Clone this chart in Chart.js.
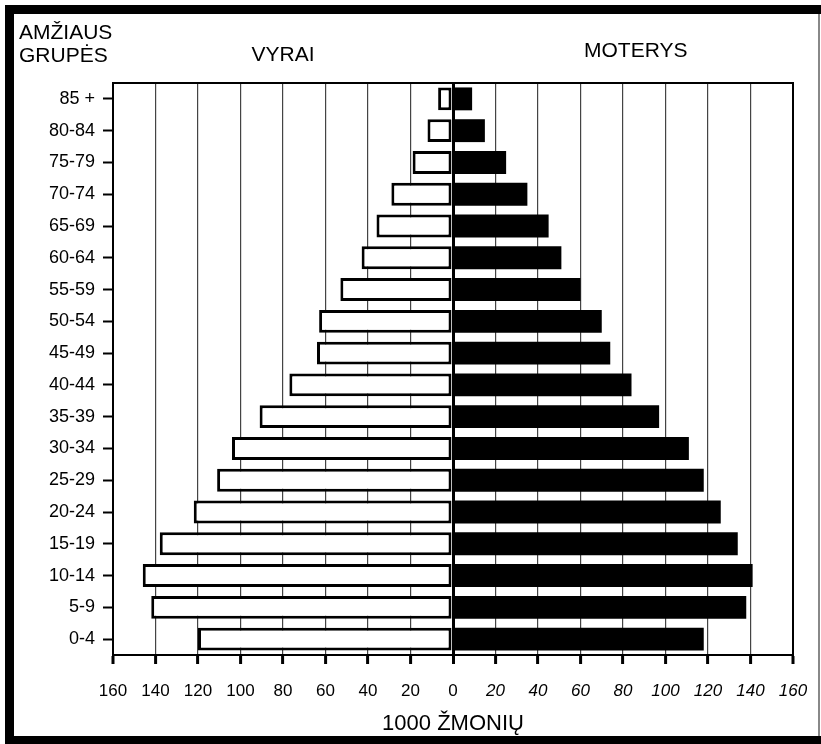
<!DOCTYPE html>
<html>
<head>
<meta charset="utf-8">
<script src="https://cdn.jsdelivr.net/npm/chart.js@4/dist/chart.umd.min.js"></script>
<style>
  html, body { margin: 0; padding: 0; background: #fff; }
  #wrap { width: 821px; height: 744px; }
</style>
</head>
<body>
<div id="wrap"><canvas id="pyramid" width="821" height="744"></canvas></div>
<script>
// age groups, top to bottom
const ageGroups = ['85 +', '80-84', '75-79', '70-74', '65-69', '60-64', '55-59', '50-54', '45-49',
                   '40-44', '35-39', '30-34', '25-29', '20-24', '15-19', '10-14', '5-9', '0-4']
// thousands of people
const men   = [7, 12, 19, 29, 36, 43, 53, 63, 64, 77, 91, 104, 111, 122, 138, 146, 142, 120]
const women = [9, 15, 25, 35, 45, 51, 60, 70, 74, 84, 97, 111, 118, 126, 134, 141, 138, 118]
const xTicks = [-160, -140, -120, -100, -80, -60, -40, -20, 0, 20, 40, 60, 80, 100, 120, 140, 160]

const FONT = "'Liberation Sans', Arial, sans-serif"

// headers + outer frame + plot box
const decor = {
    id: 'decor',
    afterDraw(chart) {
        const ctx = chart.ctx
        const a = chart.chartArea
        const x = chart.scales.x
        ctx.save()
        ctx.strokeStyle = '#000'
        ctx.lineWidth = 2
        ctx.beginPath()
        ctx.moveTo(a.left, a.top)
        ctx.lineTo(a.right, a.top)
        ctx.lineTo(a.right, a.bottom)
        ctx.stroke()

        ctx.fillStyle = '#000'
        ctx.font = '21px ' + FONT
        ctx.textBaseline = 'alphabetic'
        ctx.textAlign = 'left'
        ctx.fillText('AMŽIAUS', 19, 39)
        ctx.fillText('GRUPĖS', 19, 62)
        ctx.textAlign = 'center'
        ctx.fillText('VYRAI', x.getPixelForValue(-80), 61)
        ctx.fillText('MOTERYS', x.getPixelForValue(86), 57)

        // outer frame
        ctx.fillRect(5, 5, 816, 9)
        ctx.fillRect(5, 5, 9, 739)
        ctx.fillRect(5, 736, 816, 8)
        ctx.fillStyle = '#888'
        ctx.fillRect(818, 14, 2, 722)
        ctx.restore()
    }
}

document.addEventListener('DOMContentLoaded', function() {
    const ctx = document.getElementById('pyramid').getContext('2d')
    new Chart(ctx, {
        type: 'bar',
        data: {
            labels: ageGroups,
            datasets: [
                {
                    label: 'VYRAI',
                    data: men.map(v => -v),
                    backgroundColor: '#fff',
                    borderColor: '#000',
                    borderWidth: 3,
                    borderSkipped: false
                },
                {
                    label: 'MOTERYS',
                    data: women,
                    backgroundColor: '#000',
                    borderColor: '#000',
                    borderWidth: 0
                }
            ]
        },
        options: {
            indexAxis: 'y',
            responsive: false,
            animation: false,
            layout: { padding: { left: 0, top: 83, right: 28, bottom: 0 } },
            categoryPercentage: 0.72,
            barPercentage: 1,
            plugins: {
                legend: { display: false },
                tooltip: { enabled: false }
            },
            scales: {
                x: {
                    type: 'linear',
                    min: -160,
                    max: 160,
                    stacked: true,
                    afterBuildTicks: s => { s.ticks = xTicks.map(v => ({ value: v })) },
                    afterFit: s => {
                        s.height = 744 - 655
                        s.paddingLeft = 0
                        s.paddingRight = 0
                    },
                    ticks: {
                        color: '#000',
                        padding: 17,
                        maxRotation: 0,
                        autoSkip: false,
                        callback: v => Math.abs(v),
                        font: c => ({ family: FONT, size: 17, style: c.tick && c.tick.value > 0 ? 'italic' : 'normal' })
                    },
                    grid: {
                        color: c => (c.tick && (c.tick.value === 0 || Math.abs(c.tick.value) === 160)) ? '#000' : '#444',
                        lineWidth: c => (c.tick && c.tick.value === 0) ? 3 : (c.tick && Math.abs(c.tick.value) === 160 ? 2 : 1.2),
                        tickLength: 9,
                        tickWidth: 3,
                        tickColor: '#000'
                    },
                    border: { display: true, color: '#000', width: 2 },
                    title: {
                        display: true,
                        text: '1000 ŽMONIŲ',
                        color: '#000',
                        font: { family: FONT, size: 22 },
                        padding: { top: 0, bottom: 7 }
                    }
                },
                y: {
                    stacked: true,
                    afterFit: s => { s.width = 113 },
                    ticks: {
                        color: '#000',
                        padding: 8,
                        autoSkip: false,
                        font: { family: FONT, size: 18 }
                    },
                    grid: {
                        offset: false,
                        drawOnChartArea: false,
                        tickLength: 10,
                        tickWidth: 2,
                        tickColor: '#000'
                    },
                    border: { display: true, color: '#000', width: 2 }
                }
            }
        },
        plugins: [decor]
    })
})
</script>
</body>
</html>
